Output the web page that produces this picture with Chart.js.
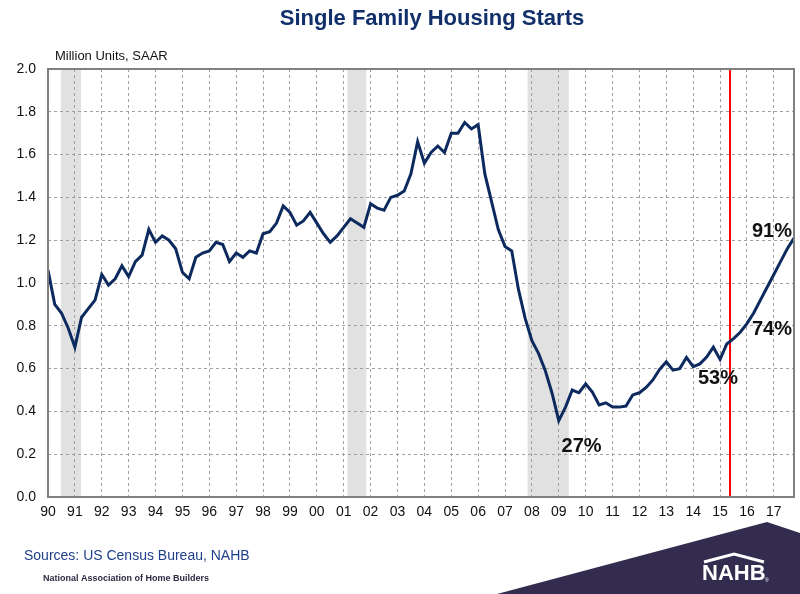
<!DOCTYPE html>
<html>
<head>
<meta charset="utf-8">
<script src="https://cdn.jsdelivr.net/npm/chart.js@4.4.0/dist/chart.umd.min.js"></script>
<style>
  body { margin: 0; background: #fff; }
  #wrap { width: 800px; height: 594px; }
</style>
</head>
<body>
<div id="wrap"><canvas id="chart" width="800" height="594"></canvas></div>
<script>
// Tick labels for the year axis (one per year, 1990 - 2017)
var yearLabels = ['90','91','92','93','94','95','96','97','98','99','00','01','02','03',
                  '04','05','06','07','08','09','10','11','12','13','14','15','16','17'];

// Quarterly single family starts, million units SAAR, 1990Q1 - 2017Q4
var starts = [
  1.06, 0.90, 0.86, 0.79,   // 1990
  0.70, 0.84, 0.88, 0.92,   // 1991
  1.04, 0.99, 1.02, 1.08,   // 1992
  1.03, 1.10, 1.13, 1.25,   // 1993
  1.19, 1.22, 1.20, 1.16,   // 1994
  1.05, 1.02, 1.12, 1.14,   // 1995
  1.15, 1.19, 1.18, 1.10,   // 1996
  1.14, 1.12, 1.15, 1.14,   // 1997
  1.23, 1.24, 1.28, 1.36,   // 1998
  1.33, 1.27, 1.29, 1.33,   // 1999
  1.28, 1.23, 1.19, 1.22,   // 2000
  1.26, 1.30, 1.28, 1.26,   // 2001
  1.37, 1.35, 1.34, 1.40,   // 2002
  1.41, 1.43, 1.51, 1.66,   // 2003
  1.56, 1.61, 1.64, 1.61,   // 2004
  1.70, 1.70, 1.75, 1.72,   // 2005
  1.74, 1.51, 1.38, 1.25,   // 2006
  1.17, 1.15, 0.97, 0.835,  // 2007
  0.73, 0.67, 0.59, 0.485,  // 2008
  0.357, 0.42, 0.50, 0.487, // 2009
  0.528, 0.49, 0.43, 0.44,  // 2010
  0.42, 0.42, 0.425, 0.477, // 2011
  0.487, 0.512, 0.547, 0.596, // 2012
  0.632, 0.593, 0.60, 0.652,  // 2013
  0.609, 0.622, 0.654, 0.70,  // 2014
  0.643, 0.715, 0.74, 0.77,   // 2015
  0.81, 0.86, 0.92, 0.98,     // 2016
  1.04, 1.10, 1.16, 1.21      // 2017
];

// Recessions, in years since 1990
var recessionStart = [0.48, 11.14, 17.84];
var recessionEnd   = [1.23, 11.84, 19.37];

// forecast marker (years since 1990)
var forecastMark = 25.37;

// Percent-of-normal annotations
var noteText = ['27%', '53%', '74%', '91%'];
var noteX    = [19.85, 24.92, 26.93, 26.93];
var noteY    = [0.238, 0.556, 0.785, 1.243];

var points = starts.map(function(v, i) { return { x: i / 4, y: v }; });

var decor = {
  id: 'decor',
  beforeDraw: function(chart) {
    var ctx = chart.ctx, a = chart.chartArea, xs = chart.scales.x;
    ctx.save();
    ctx.fillStyle = '#e1e1e1';
    for (var i = 0; i < recessionStart.length; i++) {
      var x0 = xs.getPixelForValue(recessionStart[i]);
      var x1 = xs.getPixelForValue(recessionEnd[i]);
      ctx.fillRect(x0, a.top, x1 - x0, a.bottom - a.top);
    }
    ctx.restore();
  },
  beforeDatasetsDraw: function(chart) {
    var ctx = chart.ctx, a = chart.chartArea;
    var x = chart.scales.x.getPixelForValue(forecastMark);
    ctx.save();
    ctx.strokeStyle = '#ff0000';
    ctx.lineWidth = 2;
    ctx.beginPath();
    ctx.moveTo(x, a.top);
    ctx.lineTo(x, a.bottom);
    ctx.stroke();
    ctx.restore();
  },
  afterDraw: function(chart) {
    var ctx = chart.ctx, a = chart.chartArea;
    var xs = chart.scales.x, ys = chart.scales.y;
    ctx.save();
    // plot frame
    ctx.strokeStyle = '#808080';
    ctx.lineWidth = 2;
    ctx.strokeRect(a.left, a.top, a.right - a.left, a.bottom - a.top);

    // annotations
    ctx.fillStyle = '#111111';
    ctx.font = 'bold 20px "Liberation Sans", Arial, sans-serif';
    ctx.textAlign = 'center';
    ctx.textBaseline = 'middle';
    for (var i = 0; i < noteText.length; i++) {
      ctx.fillText(noteText[i], xs.getPixelForValue(noteX[i]), ys.getPixelForValue(noteY[i]));
    }

    // title
    ctx.fillStyle = '#11306b';
    ctx.font = 'bold 22px "Liberation Sans", Arial, sans-serif';
    ctx.fillText('Single Family Housing Starts', 432, 19);

    // axis unit
    ctx.fillStyle = '#111111';
    ctx.font = '13px "Liberation Sans", Arial, sans-serif';
    ctx.textAlign = 'left';
    ctx.fillText('Million Units, SAAR', 55, 56);

    // sources
    ctx.fillStyle = '#1f3f8a';
    ctx.font = '14px "Liberation Sans", Arial, sans-serif';
    ctx.fillText('Sources: US Census Bureau, NAHB', 24, 556);
    ctx.fillStyle = '#2c2b45';
    ctx.font = 'bold 9px "Liberation Sans", Arial, sans-serif';
    ctx.fillText('National Association of Home Builders', 43, 579);

    // NAHB corner
    ctx.fillStyle = '#332c4e';
    ctx.beginPath();
    ctx.moveTo(497, 594);
    ctx.lineTo(767, 522);
    ctx.lineTo(800, 533);
    ctx.lineTo(800, 594);
    ctx.closePath();
    ctx.fill();
    ctx.strokeStyle = '#ffffff';
    ctx.lineWidth = 3;
    ctx.beginPath();
    ctx.moveTo(704, 562);
    ctx.lineTo(734, 554);
    ctx.lineTo(764, 562);
    ctx.stroke();
    ctx.fillStyle = '#ffffff';
    ctx.font = 'bold 22px "Liberation Sans", Arial, sans-serif';
    ctx.textAlign = 'left';
    ctx.fillText('NAHB', 702, 574);
    ctx.font = '5px "Liberation Sans", Arial, sans-serif';
    ctx.fillText('\u00ae', 765, 581);
    ctx.restore();
  }
};

new Chart(document.getElementById('chart'), {
  type: 'line',
  data: {
    datasets: [{
      data: points,
      borderColor: '#0d2a5f',
      borderWidth: 3,
      pointRadius: 0,
      tension: 0,
      fill: false
    }]
  },
  options: {
    responsive: false,
    animation: false,
    devicePixelRatio: 1,
    layout: { padding: { left: 0, top: 69, right: 6, bottom: 67 } },
    plugins: { legend: { display: false }, tooltip: { enabled: false } },
    scales: {
      x: {
        type: 'linear',
        min: 0,
        max: 27.75,
        afterFit: function(s) { s.height = 30; },
        afterBuildTicks: function(s) {
          s.ticks = yearLabels.map(function(l, i) { return { value: i }; });
        },
        ticks: {
          autoSkip: false,
          maxRotation: 0,
          padding: 7,
          color: '#111',
          font: { family: '"Liberation Sans", Arial, sans-serif', size: 14 },
          callback: function(v) { return yearLabels[v]; }
        },
        grid: { color: '#a0a0a0', lineWidth: 1, drawTicks: false },
        border: { display: false, dash: [3, 3] }
      },
      y: {
        min: 0,
        max: 2,
        afterFit: function(s) { s.width = 48; },
        ticks: {
          stepSize: 0.2,
          padding: 12,
          color: '#111',
          font: { family: '"Liberation Sans", Arial, sans-serif', size: 14 },
          callback: function(v) { return v.toFixed(1); }
        },
        grid: { color: '#a0a0a0', lineWidth: 1, drawTicks: false },
        border: { display: false, dash: [3, 3] }
      }
    }
  },
  plugins: [decor]
});
</script>
</body>
</html>
